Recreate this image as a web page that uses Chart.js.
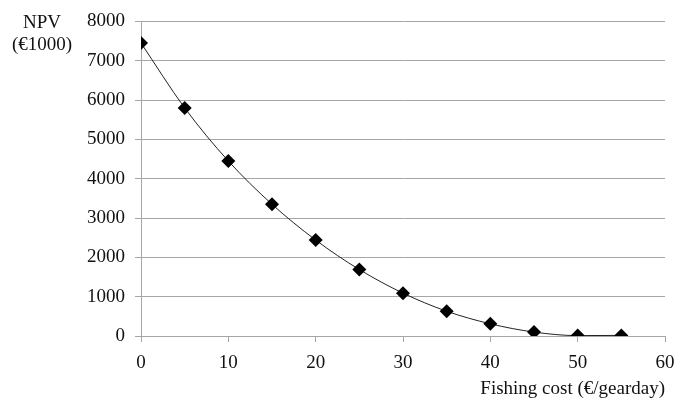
<!DOCTYPE html>
<html>
<head>
<meta charset="utf-8">
<script src="https://cdn.jsdelivr.net/npm/chart.js@4"></script>
<style>
  html, body { margin: 0; padding: 0; background: #fff; }
  #wrap { width: 676px; height: 405px; }
</style>
</head>
<body>
<div id="wrap"><canvas id="npv-chart" width="676" height="405"></canvas></div>
<script>
// fishing cost (euro/gearday) and NPV (x1000 euro)
var fishingCost = [0, 5, 10, 15, 20, 25, 30, 35, 40, 45, 50, 55];
var npv = [7450, 5800, 4450, 3350, 2440, 1690, 1090, 630, 310, 100, 10, 15];
var yTicks = [0, 1000, 2000, 3000, 4000, 5000, 6000, 7000, 8000];
var xTicks = [0, 10, 20, 30, 40, 50, 60];

var points = [];
fishingCost.forEach(function (c, i) {
    points.push({x: c, y: npv[i]});
});

var serif = "'Liberation Serif', 'Times New Roman', serif";
var gridColor = '#a6a6a6';

// "NPV (€1000)" sits top-left, not rotated
var yTitle = {
    id: 'yTitle',
    afterDraw: function (chart) {
        var ctx = chart.ctx;
        ctx.save();
        ctx.fillStyle = '#111';
        ctx.font = '19px ' + serif;
        ctx.textAlign = 'center';
        ctx.textBaseline = 'middle';
        ctx.fillText('NPV', 42, 23);
        ctx.fillText('(€1000)', 42, 45);
        ctx.restore();
    }
};

new Chart(document.getElementById('npv-chart'), {
    type: 'scatter',
    data: {
        datasets: [{
            data: points,
            showLine: true,
            cubicInterpolationMode: 'monotone',
            borderColor: '#222',
            borderWidth: 1,
            pointStyle: 'rectRot',
            pointRadius: 7,
            pointBackgroundColor: '#000',
            pointBorderColor: '#000',
            pointBorderWidth: 0
        }]
    },
    options: {
        responsive: false,
        animation: false,
        layout: {padding: {top: 20, right: 11, left: 0, bottom: 0}},
        plugins: {
            legend: {display: false},
            tooltip: {enabled: false}
        },
        scales: {
            x: {
                type: 'linear',
                min: 0,
                max: 60,
                afterBuildTicks: function (s) {
                    s.ticks = xTicks.map(function (v) { return {value: v}; });
                },
                afterFit: function (s) {
                    s.height = 69;
                    s.paddingRight = 0;
                    s.paddingLeft = 0;
                },
                grid: {drawOnChartArea: false, color: gridColor, tickLength: 6},
                border: {color: gridColor},
                ticks: {
                    color: '#111', font: {family: serif, size: 19}, padding: 10, maxRotation: 0,
                    callback: function (v) { return String(v); }
                },
                title: {
                    display: true,
                    text: 'Fishing cost (€/gearday)',
                    align: 'end',
                    color: '#111',
                    font: {family: serif, size: 19},
                    padding: {top: 2, bottom: 5}
                }
            },
            y: {
                min: 0,
                max: 8000,
                afterBuildTicks: function (s) {
                    s.ticks = yTicks.map(function (v) { return {value: v}; });
                },
                afterFit: function (s) { s.width = 141; },
                grid: {color: gridColor, tickLength: 6},
                border: {color: gridColor},
                ticks: {
                    color: '#111', font: {family: serif, size: 19}, padding: 10,
                    callback: function (v) { return String(v); }
                }
            }
        }
    },
    plugins: [yTitle]
});
</script>
</body>
</html>
